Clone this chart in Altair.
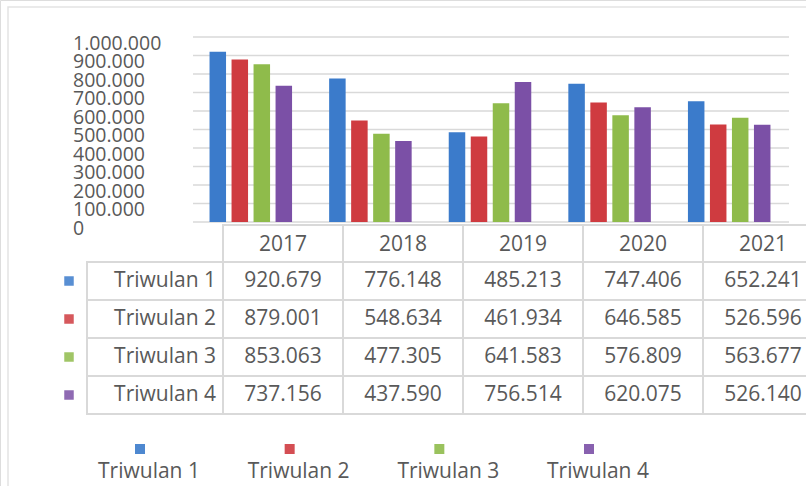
import altair as alt
import pandas as pd

years = ["2017", "2018", "2019", "2020", "2021"]
series = ["Triwulan 1", "Triwulan 2", "Triwulan 3", "Triwulan 4"]
tw1 = [920679, 776148, 485213, 747406, 652241]
tw2 = [879001, 548634, 461934, 646585, 526596]
tw3 = [853063, 477305, 641583, 576809, 563677]
tw4 = [737156, 437590, 756514, 620075, 526140]
y_ticks = [0, 100000, 200000, 300000, 400000, 500000, 600000, 700000, 800000, 900000, 1000000]
colors = ["#3b7bcb", "#cf3b40", "#8fbb4b", "#7b50a6"]


def fmt(v):
    return f"{v:,}".replace(",", ".")


rows = []
for s, vals in zip(series, [tw1, tw2, tw3, tw4]):
    for y, v in zip(years, vals):
        rows.append({"year": y, "series": s, "value": v, "label": fmt(v)})
df = pd.DataFrame(rows)
ticks_df = pd.DataFrame({"tick": y_ticks, "label": [fmt(t) for t in y_ticks]})
years_df = pd.DataFrame({"year": years})
series_df = pd.DataFrame({"series": series})

FONT = "Open Sans"
TXT = "#595959"
GRID = "#d9d9d9"

ybar = alt.Scale(domain=[0, 1000000], range=[222, 37])
xbar = alt.Scale(domain=years, range=[191, 789], paddingInner=0.31, paddingOuter=0.155)
xtab = alt.Scale(domain=years, range=[223, 823], paddingInner=0, paddingOuter=0)
ytab = alt.Scale(domain=series, range=[262, 414], paddingInner=0, paddingOuter=0)
xleg = alt.Scale(domain=series, range=[140, 589], padding=0)
cscale = alt.Scale(domain=series, range=colors)

border = alt.Chart(years_df.head(1)).mark_rect(fill="white", stroke="#e3e3e3", strokeWidth=1.5).encode(
    x=alt.value(8), x2=alt.value(830), y=alt.value(7), y2=alt.value(520)
)

grid = alt.Chart(ticks_df).mark_rule(color=GRID, strokeWidth=1.5).encode(
    y=alt.Y("tick:Q", scale=ybar, axis=None),
    x=alt.value(193), x2=alt.value(789),
)

ylabels = alt.Chart(ticks_df).mark_text(
    font=FONT, fontSize=19.5, color=TXT, align="left", baseline="middle", dy=6.5
).encode(
    y=alt.Y("tick:Q", scale=ybar, axis=None),
    x=alt.value(73),
    text="label:N",
)

bars = alt.Chart(df).mark_bar().encode(
    x=alt.X("year:N", scale=xbar, axis=None),
    xOffset=alt.XOffset("series:N", sort=series, scale=alt.Scale(paddingInner=0.25, paddingOuter=0)),
    y=alt.Y("value:Q", scale=ybar, axis=None),
    color=alt.Color("series:N", scale=cscale, legend=None),
)

header_cells = alt.Chart(years_df).mark_rect(fill="white", stroke=GRID, strokeWidth=2).encode(
    x=alt.X("year:N", scale=xtab, axis=None),
    y=alt.value(225), y2=alt.value(262),
)
header_text = alt.Chart(years_df).mark_text(
    font=FONT, fontSize=21, color=TXT, baseline="middle", dy=1
).encode(
    x=alt.X("year:N", scale=xtab, axis=None),
    y=alt.value(244),
    text="year:N",
)

label_cells = alt.Chart(series_df).mark_rect(fill="white", stroke=GRID, strokeWidth=2).encode(
    x=alt.value(87), x2=alt.value(223),
    y=alt.Y("series:N", scale=ytab, axis=None),
)
value_cells = alt.Chart(df).mark_rect(fill="white", stroke=GRID, strokeWidth=2).encode(
    x=alt.X("year:N", scale=xtab, axis=None),
    y=alt.Y("series:N", scale=ytab, axis=None),
)
value_text = alt.Chart(df).mark_text(
    font=FONT, fontSize=21, color=TXT, baseline="middle"
).encode(
    x=alt.X("year:N", scale=xtab, axis=None),
    y=alt.Y("series:N", scale=ytab, axis=None),
    text="label:N",
)
row_labels = alt.Chart(series_df).mark_text(
    font=FONT, fontSize=21, color=TXT, align="right", baseline="middle"
).encode(
    x=alt.value(216),
    y=alt.Y("series:N", scale=ytab, axis=None),
    text="series:N",
)
row_keys = alt.Chart(series_df).mark_point(shape="square", filled=True, size=90, opacity=0.85).encode(
    x=alt.value(69),
    y=alt.Y("series:N", scale=ytab, axis=None),
    color=alt.Color("series:N", scale=cscale, legend=None),
)

leg_keys = alt.Chart(series_df).mark_point(shape="square", filled=True, size=100, opacity=0.9).encode(
    x=alt.X("series:N", scale=xleg, axis=None),
    y=alt.value(449),
    color=alt.Color("series:N", scale=cscale, legend=None),
)
leg_text = alt.Chart(series_df).mark_text(
    font=FONT, fontSize=21, color=TXT, baseline="middle", dx=9
).encode(
    x=alt.X("series:N", scale=xleg, axis=None),
    y=alt.value(472),
    text="series:N",
)

chart = alt.layer(
    border, grid, ylabels, bars,
    header_cells, header_text, label_cells, value_cells, value_text,
    row_labels, row_keys, leg_keys, leg_text,
).resolve_scale(
    x="independent", y="independent"
).properties(
    width=806, height=486, padding=0, autosize=alt.AutoSizeParams(type="none"),
).configure_view(stroke=None).configure(background="white")

chart.save("out.html", embed_options={"renderer": "svg", "actions": False})
